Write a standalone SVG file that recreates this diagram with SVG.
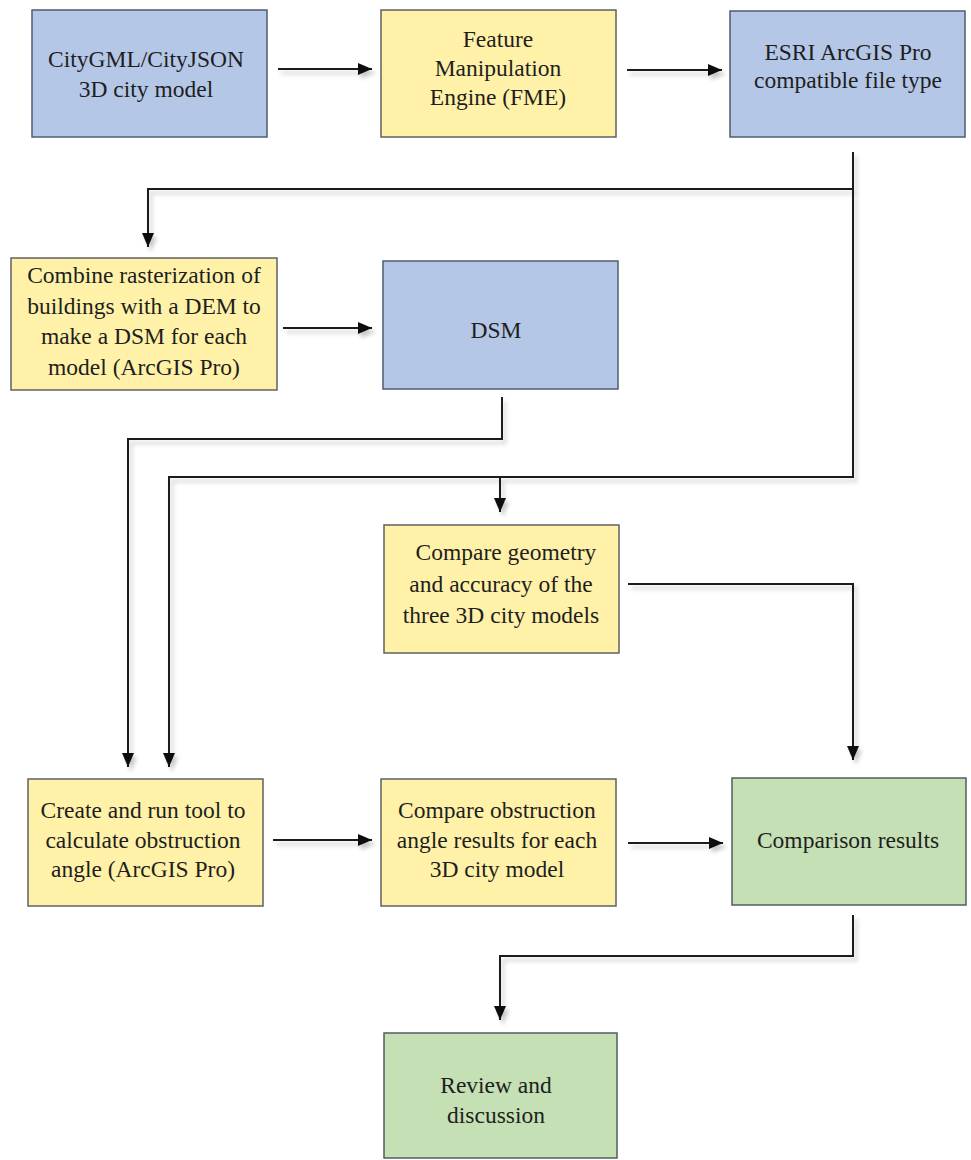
<svg xmlns="http://www.w3.org/2000/svg" width="971" height="1160" viewBox="0 0 971 1160">
  <defs>
    <marker id="arrow" markerUnits="userSpaceOnUse" markerWidth="14" markerHeight="14" viewBox="0 0 14 14" refX="14" refY="7" orient="auto">
      <path d="M0,1 L14,7 L0,13 z" fill="#111"/>
    </marker>
    <filter id="shadow" x="-10%" y="-10%" width="120%" height="120%">
      <feDropShadow dx="3" dy="4" stdDeviation="2" flood-color="#000" flood-opacity="0.22"/>
    </filter>
  </defs>
  <style>
    .blue { fill: #b4c7e7; stroke: #4f5e70; stroke-width: 1.5; }
    .yellow { fill: #fff2a8; stroke: #5f6062; stroke-width: 1.5; }
    .green { fill: #c5e0b4; stroke: #4f5e60; stroke-width: 1.5; }
    text { font-family: "Liberation Serif", "Times New Roman", serif; font-size: 23.5px; fill: #1e1e1e; text-anchor: middle; }
    .conn path { fill: none; stroke: #1a1a1a; stroke-width: 2; }
  </style>
  <rect width="971" height="1160" fill="#fff"/>

  <g class="conn" filter="url(#shadow)">
    <path d="M278,69 H372" marker-end="url(#arrow)"/>
    <path d="M627,70 H722" marker-end="url(#arrow)"/>
    <path d="M853,152 V189 H148 V247" marker-end="url(#arrow)"/>
    <path d="M853,189 V477 H169 V767" marker-end="url(#arrow)"/>
    <path d="M500,477 V512" marker-end="url(#arrow)"/>
    <path d="M283,328 H372" marker-end="url(#arrow)"/>
    <path d="M502,397 V439 H128 V767" marker-end="url(#arrow)"/>
    <path d="M628,584 H853 V760" marker-end="url(#arrow)"/>
    <path d="M273,840 H372" marker-end="url(#arrow)"/>
    <path d="M628,843 H723" marker-end="url(#arrow)"/>
    <path d="M853,915 V956 H500 V1020" marker-end="url(#arrow)"/>
  </g>

  <g id="citygml">
    <rect class="blue" x="32" y="10" width="235" height="127"/>
    <text x="146" y="67">CityGML/CityJSON</text>
    <text x="146" y="97">3D  city model</text>
  </g>
  <g id="fme">
    <rect class="yellow" x="381" y="10" width="235" height="127"/>
    <text x="498" y="47">Feature</text>
    <text x="498" y="76">Manipulation</text>
    <text x="498" y="105">Engine (FME)</text>
  </g>
  <g id="esri">
    <rect class="blue" x="730" y="11" width="235" height="126"/>
    <text x="848" y="60">ESRI  ArcGIS  Pro</text>
    <text x="848" y="88">compatible  file  type</text>
  </g>
  <g id="combine">
    <rect class="yellow" x="11" y="258" width="266" height="132"/>
    <text x="144" y="283">Combine  rasterization  of</text>
    <text x="144" y="314">buildings with a DEM  to</text>
    <text x="144" y="344">make  a DSM for each</text>
    <text x="144" y="375">model (ArcGIS  Pro)</text>
  </g>
  <g id="dsm">
    <rect class="blue" x="383" y="261" width="235" height="128"/>
    <text x="496" y="338">DSM</text>
  </g>
  <g id="geometry">
    <rect class="yellow" x="384" y="525" width="235" height="128"/>
    <text x="506" y="560">Compare  geometry</text>
    <text x="501" y="592">and accuracy of the</text>
    <text x="501" y="623">three 3D  city models</text>
  </g>
  <g id="create">
    <rect class="yellow" x="28" y="779" width="235" height="127"/>
    <text x="143" y="818">Create  and run tool to</text>
    <text x="143" y="848">calculate  obstruction</text>
    <text x="143" y="877">angle (ArcGIS  Pro)</text>
  </g>
  <g id="obstruction">
    <rect class="yellow" x="381" y="779" width="235" height="127"/>
    <text x="497" y="818">Compare  obstruction</text>
    <text x="497" y="848">angle results for  each</text>
    <text x="497" y="877">3D  city model</text>
  </g>
  <g id="comparison">
    <rect class="green" x="732" y="778" width="234" height="127"/>
    <text x="848" y="848">Comparison results</text>
  </g>
  <g id="review">
    <rect class="green" x="384" y="1033" width="233" height="125"/>
    <text x="496" y="1093">Review  and</text>
    <text x="496" y="1123">discussion</text>
  </g>
</svg>
